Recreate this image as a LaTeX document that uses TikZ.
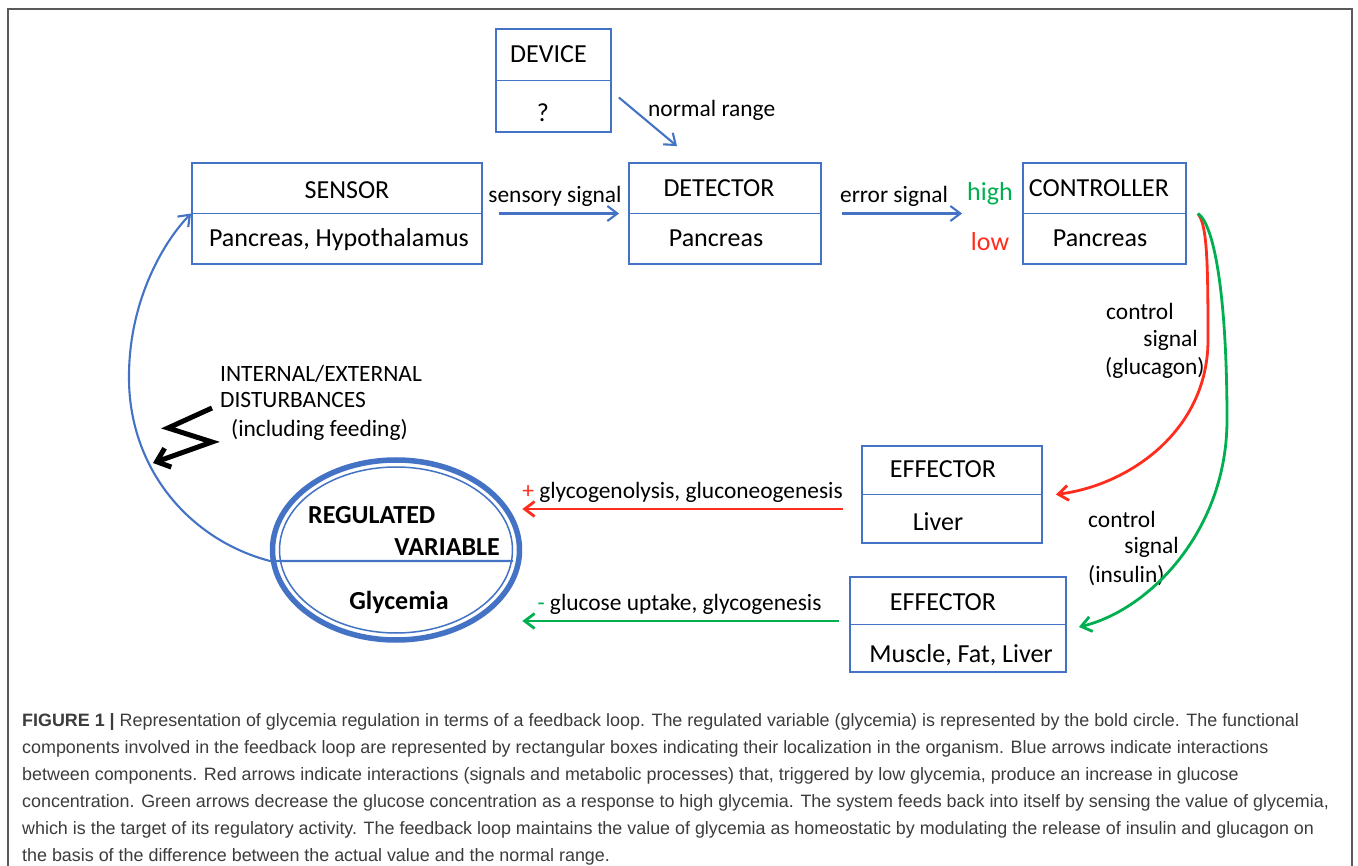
\documentclass[tikz,border=0pt]{standalone}
\usepackage{fontspec}
\usetikzlibrary{arrows.meta,shapes.geometric}
\setmainfont{Carlito}
\newfontfamily\capfont{Liberation Sans}
\definecolor{fbblue}{RGB}{68,114,196}
\definecolor{fbred}{RGB}{255,45,30}
\definecolor{fbgreen}{RGB}{0,176,80}
\definecolor{capgray}{RGB}{60,60,60}
\definecolor{framegray}{RGB}{90,90,90}
\def\bxfont{\fontsize{26}{30}\selectfont}
\def\lbfont{\fontsize{23.4}{28}\selectfont}

\begin{document}
\begin{tikzpicture}[x=1pt,y=-1pt,>={Straight Barb[length=10pt,width=15pt]},
  box/.style={draw=fbblue,line width=1.8pt,inner sep=0pt},
  txt/.style={font=\bxfont,anchor=base,inner sep=0pt},
  lab/.style={font=\lbfont,anchor=base,inner sep=0pt},
  flow/.style={->,draw=fbblue,line width=2.1pt},
  upflow/.style={->,draw=fbred,line width=2.8pt},
  downflow/.style={->,draw=fbgreen,line width=2.8pt}]
\useasboundingbox (0,0) rectangle (1358,866);
\fill[white] (0,0) rectangle (1358,866);
\draw[framegray,line width=1.5pt] (8,875) -- (8,9) -- (1352,9) -- (1352,875);
% boxes
\node[box,minimum width=115pt,minimum height=103pt] (device) at (553.5,80.5) {};
\node[box,minimum width=290pt,minimum height=101pt] (sensor) at (337,213.5) {};
\node[box,minimum width=192pt,minimum height=101pt] (detector) at (725,213.5) {};
\node[box,minimum width=163pt,minimum height=101pt] (controller) at (1104.5,213.5) {};
\node[box,minimum width=180pt,minimum height=97pt] (liver) at (952,494.5) {};
\node[box,minimum width=216pt,minimum height=95pt] (muscle) at (958,624.5) {};
\draw[box] (device.west) -- (device.east);
\draw[box] (sensor.west) -- (sensor.east);
\draw[box] (detector.west) -- (detector.east);
\draw[box] (controller.west) -- (controller.east);
\draw[box] (liver.west) -- (liver.east);
\draw[box] (muscle.west) -- (muscle.east);
\node[txt] (devicehead) at (548.5,63) {DEVICE};
\node[txt] (devicebody) at (543,122) {?};
\node[txt] (sensorhead) at (347,199) {SENSOR};
\node[txt] (sensorbody) at (339,247) {Pancreas, Hypothalamus};
\node[txt] (detectorhead) at (719,197) {DETECTOR};
\node[txt] (detectorbody) at (716,247) {Pancreas};
\node[txt] (controllerhead) at (1099,197) {CONTROLLER};
\node[txt] (controllerbody) at (1100,247) {Pancreas};
\node[txt] (liverhead) at (943,478) {EFFECTOR};
\node[txt] (liverbody) at (938,530) {Liver};
\node[txt] (musclehead) at (943,610) {EFFECTOR};
\node[txt] (musclebody) at (961,662) {Muscle, Fat, Liver};
% regulated variable
\node[draw=fbblue,line width=5.5pt,ellipse,minimum width=247pt,minimum height=180pt,inner sep=0pt] (rv) at (396,550) {};
\node[draw=fbblue,line width=1.5pt,ellipse,minimum width=233pt,minimum height=166pt,inner sep=0pt] (rvin) at (rv.center) {};
\node[txt,font=\bxfont\bfseries,anchor=base west] (rvhead) at (308,523) {REGULATED};
\node[txt,font=\bxfont\bfseries,anchor=base east] (rvname) at (500,555) {VARIABLE};
\node[txt,font=\bxfont\bfseries] (rvbody) at (399,609) {Glycemia};
% labels
\node[lab] (sensory) at (555,203) {sensory signal};
\node[lab] (error) at (894,203) {error signal};
\node[lab,anchor=base west] (normal) at (648,117) {normal range};
\node[txt,text=fbgreen] (high) at (990,201) {high};
\node[txt,text=fbred] (low) at (990,251) {low};
\node[lab] (glyup) at (682.5,498) {\textcolor{fbred}{+} glycogenolysis, gluconeogenesis};
\node[lab] (glydown) at (679.5,610) {\textcolor{fbgreen}{-} glucose uptake, glycogenesis};
\node[lab,anchor=base west] (glucagonA) at (1106,320) {control};
\node[lab,anchor=base east] (glucagonB) at (1198,347) {signal};
\node[lab,anchor=base west] (glucagonC) at (1105,375) {(glucagon)};
\node[lab,anchor=base west] (insulinA) at (1088,527) {control};
\node[lab,anchor=base east] (insulinB) at (1179,553) {signal};
\node[lab,anchor=base west] (insulinC) at (1088,582) {(insulin)};
\node[lab,anchor=base west] (distA) at (220,382) {INTERNAL/EXTERNAL};
\node[lab,anchor=base west] (distB) at (220,408) {DISTURBANCES};
\node[lab,anchor=base west] (distC) at (231,437) {(including feeding)};
% connectors
\draw[flow] ([shift={(7,17)}]device.east) -- ([shift={(-48,-16)}]detector.north);
\draw[flow,shorten <=16pt,shorten >=9pt] (sensor.east) -- (detector.west);
\draw[flow,shorten <=20pt,shorten >=60pt] (detector.east) -- (controller.west);
\coordinate (rvL) at (270,561);
\coordinate (rvR) at (513,561);
\draw[flow] (rvR) -- (rvL) .. controls (190,540) and (130,470) .. (129,380) .. controls (128,300) and (165,240) .. (sensor.west);
\draw[upflow] ([xshift=11pt]controller.east) .. controls (1207,225) and (1208,260) .. (1208,340) .. controls (1208,430) and (1130,485) .. ([xshift=13pt]liver.east);
\draw[downflow] ([xshift=11pt]controller.east) .. controls (1215,225) and (1227,300) .. (1227,420) .. controls (1227,530) and (1150,610) .. ([shift={(12,2.5)}]muscle.east);
\coordinate (upstart) at ([yshift=-14.5pt]liver.west);
\coordinate (downstart) at ([yshift=3.5pt]muscle.west);
\draw[upflow,shorten <=18pt] (upstart) -- (upstart -| rv.east);
\draw[downflow,shorten <=10pt] (downstart) -- (downstart -| rv.east);
% disturbance
\draw[line width=5pt,line join=miter,-{Straight Barb[length=12pt,width=20pt]}] (212,408) -- (168,428) -- (212,442) -- (153,463);
% caption
\node[font=\capfont\fontsize{17.9}{27}\selectfont,text=capgray,align=left,anchor=north west,inner sep=0pt] (caption) at (22,713) {\textbf{FIGURE 1 |} Representation of glycemia regulation in terms of a feedback loop. The regulated variable (glycemia) is represented by the bold circle. The functional\\
components involved in the feedback loop are represented by rectangular boxes indicating their localization in the organism. Blue arrows indicate interactions\\
between components. Red arrows indicate interactions (signals and metabolic processes) that, triggered by low glycemia, produce an increase in glucose\\
concentration. Green arrows decrease the glucose concentration as a response to high glycemia. The system feeds back into itself by sensing the value of glycemia,\\
which is the target of its regulatory activity. The feedback loop maintains the value of glycemia as homeostatic by modulating the release of insulin and glucagon on\\
the basis of the difference between the actual value and the normal range.};
\end{tikzpicture}
\end{document}
